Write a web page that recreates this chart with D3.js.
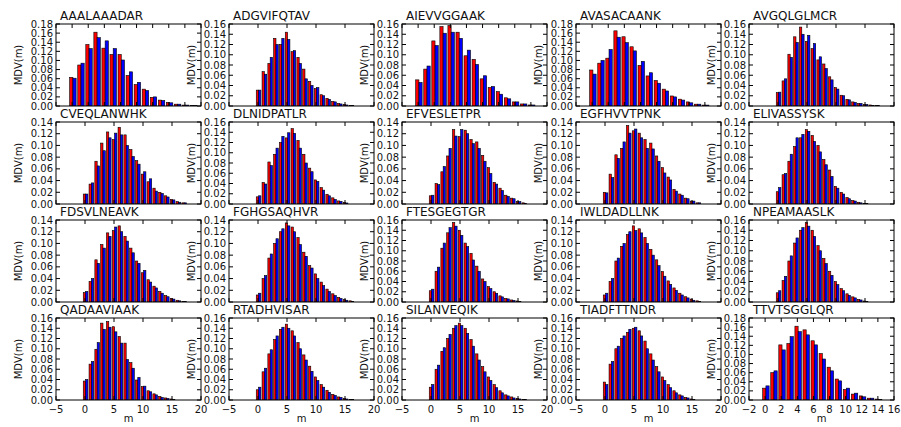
<!DOCTYPE html>
<html>
<head>
<meta charset="utf-8">
<script src="https://cdn.jsdelivr.net/npm/d3@7"></script>
<style>
  body { margin: 0; background: #fff; }
  text { font-family: "DejaVu Sans", sans-serif; fill: #111; }
</style>
</head>
<body>
<svg id="chart" width="901" height="427"></svg>
<script>
// peptide names, one per panel (row by row)
const peptides = [
  'AAALAAADAR', 'ADGVIFQTAV', 'AIEVVGGAAK', 'AVASACAANK', 'AVGQLGLMCR',
  'CVEQLANWHK', 'DLNIDPATLR', 'EFVESLETPR', 'EGFHVVTPNK', 'ELIVASSYSK',
  'FDSVLNEAVK', 'FGHGSAQHVR', 'FTESGEGTGR', 'IWLDADLLNK', 'NPEAMAASLK',
  'QADAAVIAAK', 'RTADHVISAR', 'SILANVEQIK', 'TIADFTTNDR', 'TTVTSGGLQR'
];

// y axis top per panel
const yMax = [
  0.18, 0.16, 0.16, 0.18, 0.16,
  0.14, 0.16, 0.14, 0.14, 0.14,
  0.14, 0.14, 0.16, 0.14, 0.16,
  0.16, 0.16, 0.16, 0.16, 0.18
];

// x axis range per panel ('w' = -5..20, 'n' = -2..16)
const xRange = [
  'n', 'w', 'n', 'n', 'w',
  'w', 'w', 'w', 'w', 'w',
  'w', 'w', 'w', 'w', 'w',
  'w', 'w', 'w', 'w', 'n'
];
const xTicksWide = [-5, 0, 5, 10, 15, 20];
const xTicksNarrow = [-2, 0, 2, 4, 6, 8, 10, 12, 14, 16];

// MDV(m), red series, index = m
const redMDV = [
  [.063, .090, .135, .162, .127, .113, .113, .067, .047, .037, .019, .013, .008, .004, .002, .001],
  [.031, .067, .083, .132, .120, .144, .106, .095, .072, .048, .034, .022, .015, .009, .005, .003, .001],
  [.051, .072, .127, .155, .157, .144, .098, .091, .053, .036, .028, .016, .008, .004, .002],
  [.079, .094, .105, .165, .152, .130, .089, .066, .056, .037, .022, .015, .009, .004, .002],
  [.026, .049, .101, .135, .154, .126, .112, .090, .082, .057, .036, .021, .013, .008, .005, .003, .002, .001],
  [.017, .034, .073, .104, .123, .110, .131, .118, .093, .074, .051, .038, .027, .020, .014, .008, .004, .002],
  [.014, .042, .082, .097, .120, .129, .147, .124, .097, .070, .047, .032, .019, .012, .006, .003],
  [.014, .035, .055, .082, .127, .115, .126, .110, .106, .083, .062, .037, .027, .015, .010, .004, .002],
  [.020, .051, .084, .095, .134, .125, .121, .110, .104, .082, .062, .046, .025, .017, .010, .005, .002],
  [.021, .050, .073, .098, .113, .127, .117, .100, .076, .058, .030, .020, .011, .006, .003, .001],
  [.016, .035, .072, .098, .118, .122, .130, .112, .092, .070, .050, .038, .027, .018, .011, .006, .003, .001],
  [.012, .040, .075, .100, .120, .135, .128, .110, .085, .062, .048, .034, .022, .014, .008, .004, .002],
  [.022, .060, .105, .135, .155, .140, .115, .095, .070, .045, .030, .020, .012, .007, .004, .002],
  [.012, .035, .070, .095, .115, .130, .125, .110, .090, .072, .052, .036, .024, .015, .009, .005, .002],
  [.018, .042, .080, .115, .140, .155, .140, .110, .085, .060, .040, .026, .016, .010, .005, .002],
  [.037, .070, .099, .150, .153, .143, .124, .111, .073, .039, .026, .018, .012, .007, .004, .002],
  [.020, .055, .090, .118, .138, .148, .135, .112, .088, .066, .045, .030, .019, .011, .006, .003, .001],
  [.025, .060, .095, .120, .140, .150, .140, .118, .090, .065, .045, .030, .018, .010, .006, .003, .001],
  [.035, .070, .100, .120, .132, .140, .135, .115, .090, .065, .045, .030, .018, .010, .005, .002],
  [.026, .060, .121, .124, .162, .154, .130, .102, .072, .046, .023, .013, .009, .004, .002]
];

// MDV(m), blue series, index = m
const blueMDV = [
  [.061, .094, .126, .150, .143, .126, .101, .075, .052, .034, .020, .012, .007, .004, .002, .001],
  [.031, .062, .095, .120, .132, .130, .108, .083, .053, .040, .036, .020, .013, .008, .004, .002, .001],
  [.046, .078, .118, .142, .144, .132, .109, .081, .059, .038, .023, .014, .008, .004, .002],
  [.070, .100, .124, .151, .139, .121, .098, .073, .050, .033, .020, .013, .007, .004, .002],
  [.027, .053, .095, .124, .140, .138, .122, .096, .073, .051, .033, .020, .012, .007, .005, .003, .001, .001],
  [.017, .036, .065, .091, .113, .121, .118, .100, .081, .068, .055, .043, .022, .018, .012, .007, .003, .002],
  [.016, .039, .075, .109, .132, .139, .138, .109, .080, .063, .044, .027, .016, .009, .005, .002],
  [.015, .033, .064, .095, .116, .127, .120, .103, .095, .073, .052, .034, .023, .013, .009, .004, .001],
  [.019, .045, .078, .106, .121, .128, .113, .095, .094, .073, .053, .041, .022, .015, .009, .005, .002],
  [.028, .052, .085, .113, .119, .124, .107, .089, .067, .047, .027, .017, .009, .005, .002, .001],
  [.018, .040, .066, .092, .112, .128, .120, .104, .084, .066, .054, .034, .024, .015, .009, .005, .002, .001],
  [.015, .045, .082, .108, .125, .130, .120, .098, .078, .058, .040, .028, .018, .011, .006, .003, .001],
  [.025, .068, .115, .145, .148, .130, .108, .082, .060, .040, .026, .017, .010, .006, .003, .001],
  [.015, .040, .075, .100, .120, .122, .118, .100, .080, .062, .044, .030, .020, .012, .007, .003, .001],
  [.022, .050, .090, .125, .145, .148, .128, .100, .075, .052, .034, .022, .013, .008, .004, .001],
  [.040, .075, .112, .138, .142, .133, .111, .079, .062, .044, .027, .016, .010, .005, .003, .001],
  [.025, .062, .098, .125, .142, .140, .125, .100, .078, .056, .038, .025, .015, .009, .005, .002, .001],
  [.030, .068, .102, .128, .145, .145, .130, .105, .078, .055, .038, .024, .014, .008, .004, .002, .001],
  [.030, .075, .105, .125, .138, .142, .125, .100, .078, .055, .038, .024, .014, .008, .004, .001],
  [.031, .064, .110, .139, .150, .143, .121, .090, .064, .042, .026, .015, .007, .004, .001]
];

const colLeft = [56, 229, 402, 576, 749];
const rowTop = [24, 122, 220, 318];
const panelW = 145, panelH = 82;
const barW = 0.4, redOffset = -0.3;

const svg = d3.select('#chart');
const fmtY = d3.format('.2f');
const fmtX = d => d < 0 ? '\u2212' + Math.abs(d) : String(d);

peptides.forEach((name, k) => {
  const row = Math.floor(k / 5), col = k % 5;
  const left = colLeft[col], top = rowTop[row];
  const wide = xRange[k] === 'w';
  const x = d3.scaleLinear().domain(wide ? [-5, 20] : [-2, 16]).range([0, panelW]);
  const y = d3.scaleLinear().domain([0, yMax[k]]).range([panelH, 0]);
  const xTicks = wide ? xTicksWide : xTicksNarrow;
  const yTicks = d3.range(0, yMax[k] + 1e-9, 0.02);

  const g = svg.append('g').attr('transform', `translate(${left},${top})`);

  g.append('clipPath').attr('id', 'clip' + k)
    .append('rect').attr('width', panelW).attr('height', panelH);

  const bars = g.append('g').attr('clip-path', `url(#clip${k})`);
  const bw = x(barW) - x(0);

  bars.selectAll('rect.red')
    .data(redMDV[k])
    .enter().append('rect')
    .attr('class', 'red')
    .attr('x', (d, i) => x(i + redOffset))
    .attr('y', d => y(d))
    .attr('width', bw)
    .attr('height', d => panelH - y(d))
    .attr('fill', '#ff0000')
    .attr('stroke', '#000')
    .attr('stroke-width', 0.6);

  bars.selectAll('rect.blue')
    .data(blueMDV[k])
    .enter().append('rect')
    .attr('class', 'blue')
    .attr('x', (d, i) => x(i + redOffset + barW))
    .attr('y', d => y(d))
    .attr('width', bw)
    .attr('height', d => panelH - y(d))
    .attr('fill', '#0000ff')
    .attr('stroke', '#000')
    .attr('stroke-width', 0.6);

  // frame
  g.append('rect')
    .attr('width', panelW).attr('height', panelH)
    .attr('fill', 'none').attr('stroke', '#000').attr('stroke-width', 1);

  // inward ticks on all four sides
  yTicks.forEach(t => {
    g.append('line').attr('x1', 0).attr('x2', 4).attr('y1', y(t)).attr('y2', y(t)).attr('stroke', '#000');
    g.append('line').attr('x1', panelW - 4).attr('x2', panelW).attr('y1', y(t)).attr('y2', y(t)).attr('stroke', '#000');
  });
  xTicks.forEach(t => {
    g.append('line').attr('x1', x(t)).attr('x2', x(t)).attr('y1', panelH).attr('y2', panelH - 4).attr('stroke', '#000');
    g.append('line').attr('x1', x(t)).attr('x2', x(t)).attr('y1', 0).attr('y2', 4).attr('stroke', '#000');
  });

  // y tick labels
  g.selectAll('text.yt')
    .data(yTicks)
    .enter().append('text')
    .attr('class', 'yt')
    .attr('x', -3)
    .attr('y', d => y(d))
    .attr('dy', '0.36em')
    .attr('text-anchor', 'end')
    .style('font-size', '10px')
    .text(d => fmtY(d));

  // y label
  g.append('text')
    .attr('transform', `translate(-38,${panelH / 2}) rotate(-90)`)
    .attr('dy', '0.35em')
    .attr('text-anchor', 'middle')
    .style('font-size', '10px')
    .text('MDV(m)');

  // title
  g.append('text')
    .attr('x', 4)
    .attr('y', -4)
    .style('font-size', '12px')
    .text(name);

  // bottom row: x tick labels and x label
  if (row === 3) {
    g.selectAll('text.xt')
      .data(xTicks)
      .enter().append('text')
      .attr('class', 'xt')
      .attr('x', d => x(d))
      .attr('y', panelH + 13)
      .attr('text-anchor', 'middle')
      .style('font-size', '10px')
      .text(d => fmtX(d));

    g.append('text')
      .attr('x', panelW / 2)
      .attr('y', panelH + 22)
      .attr('text-anchor', 'middle')
      .style('font-size', '10px')
      .text('m');
  }
});
</script>
</body>
</html>
